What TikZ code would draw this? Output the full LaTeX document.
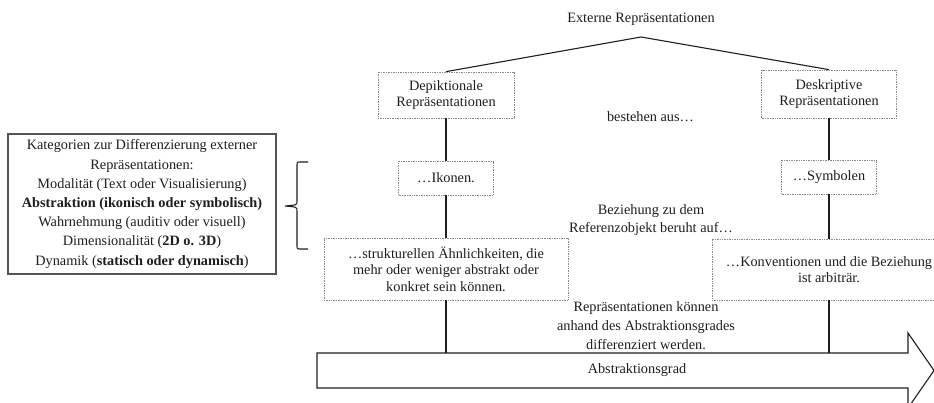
\documentclass[tikz,border=0pt]{standalone}
\usepackage{fontspec}
\setmainfont{Liberation Serif}
\definecolor{txt}{HTML}{1E1E1E}
\definecolor{boxgray}{HTML}{8A8A8A}
\definecolor{framegray}{HTML}{555555}
\begin{document}
\begin{tikzpicture}[x=1pt,y=-1pt,
  every node/.style={font=\fontsize{14.3}{16.5}\selectfont, text=txt, inner sep=0pt, align=center},
  dbox/.style={draw=boxgray, densely dotted, line width=0.7pt},
  conn/.style={draw=txt, line width=1.1pt},
  frame/.style={draw=framegray, line width=1.2pt},
  free/.style={font=\fontsize{14.3}{18.5}\selectfont},
  ]
\useasboundingbox (0,0) rectangle (934,403);
% top
\node (ext) at (641,19) {Externe Repräsentationen};
\coordinate (apex) at (641,37);
% boxes
\node[dbox, minimum width=136pt, minimum height=46pt] (dep) at (446,95) {Depiktionale\\Repräsentationen};
\node[dbox, minimum width=135pt, minimum height=48pt] (desk) at (829,94) {Deskriptive\\Repräsentationen};
\node[dbox, minimum width=95pt, minimum height=34pt] (iko) at (446,178) {…Ikonen.};
\node[dbox, minimum width=95pt, minimum height=34pt] (sym) at (829,177) {…Symbolen};
\node[dbox, minimum width=244pt, minimum height=62pt] (struk) at (446,269) {…strukturellen Ähnlichkeiten, die\\mehr oder weniger abstrakt oder\\konkret sein können.};
\node[dbox, minimum width=234pt, minimum height=61pt] (konv) at (829,269.5) {…Konventionen und die Beziehung\\ist arbiträr.};
% free texts
\node (best) at (650.5,117) {bestehen aus…};
\node[free] (bez) at (651,220) {Beziehung zu dem\\Referenzobjekt beruht auf…};
\node[free, font=\fontsize{14.3}{19}\selectfont] (rep) at (646,326) {Repräsentationen können\\anhand des Abstraktionsgrades\\differenziert werden.};
% left box
\node[frame, minimum width=268pt, minimum height=140pt, font=\fontsize{14.3}{19.2}\selectfont] (kat) at (142,204)
  {Kategorien zur Differenzierung externer\\Repräsentationen:\\Modalität (Text oder Visualisierung)\\\textbf{Abstraktion (ikonisch oder symbolisch)}\\Wahrnehmung (auditiv oder visuell)\\Dimensionalität (\textbf{2D o. 3D})\\Dynamik (\textbf{statisch oder dynamisch})};
% brace
\draw[txt, line width=1.1pt] (308,162) -- (301,162) .. controls (297,162) .. (297,166) -- (297,201)
  .. controls (297,205) .. (285,206) .. controls (297,207) .. (297,211) -- (297,245)
  .. controls (297,249) .. (301,249) -- (308,249);
% arrow
\coordinate (abL) at (446,353);
\coordinate (abR) at (829,353);
\draw[txt, line width=1.1pt] (317,353) -- (908,353) -- (908,333) -- (934,370.5) -- (908,408) -- (908,388) -- (317,388) -- cycle;
\node (abs) at (637,370.5) {Abstraktionsgrad};
% connectors
\draw[conn] (apex) -- (dep.north);
\draw[conn] (apex) -- (desk.north);
\draw[conn] (dep.south) -- (iko.north);
\draw[conn] (iko.south) -- (struk.north);
\draw[conn] (struk.south) -- (abL);
\draw[conn] (desk.south) -- (sym.north);
\draw[conn] (sym.south) -- (konv.north);
\draw[conn] (konv.south) -- (abR);
\end{tikzpicture}
\end{document}
